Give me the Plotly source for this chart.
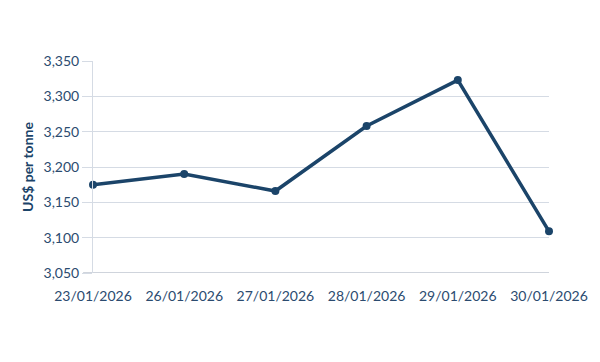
import plotly.graph_objects as go

dates = ["23/01/2026", "26/01/2026", "27/01/2026", "28/01/2026", "29/01/2026", "30/01/2026"]
prices = [3175, 3190, 3166, 3258, 3323, 3109]
y_ticks = [3050, 3100, 3150, 3200, 3250, 3300, 3350]
y_tick_labels = ["3,050", "3,100", "3,150", "3,200", "3,250", "3,300", "3,350"]

line_color = "#1b4469"
text_color = "#2b4b6f"
grid_color = "#d5dbe4"

fig = go.Figure(go.Scatter(
    x=list(range(len(dates))), y=prices, mode="lines+markers",
    line=dict(color=line_color, width=3.5),
    marker=dict(color=line_color, size=8),
    cliponaxis=False,
    hoverinfo="skip",
))

fig.update_layout(
    width=600, height=362,
    margin=dict(l=93, r=47, t=61, b=89),
    paper_bgcolor="white", plot_bgcolor="white",
    font=dict(family="Lato", size=14, color=text_color),
    showlegend=False,
    xaxis=dict(
        range=[0, 5], tickmode="array", tickvals=list(range(len(dates))), ticktext=dates,
        showgrid=False, zeroline=False, showline=False,
        ticks="outside", ticklen=10, tickcolor="rgba(0,0,0,0)",
        tickfont=dict(size=14, color=text_color),
    ),
    yaxis=dict(
        range=[3050, 3350], tickmode="array", tickvals=y_ticks, ticktext=y_tick_labels,
        showgrid=True, gridcolor=grid_color, gridwidth=1,
        zeroline=False, showline=True, linecolor=grid_color, linewidth=1,
        ticks="outside", ticklen=10, tickcolor=grid_color,
        tickfont=dict(size=14, color=text_color),
        title=dict(text="<b>US$ per tonne</b>", font=dict(size=14, color=line_color), standoff=6),
    ),
)
fig.add_shape(type="line", xref="paper", yref="y", x0=-10/460, x1=1, y0=3050, y1=3050,
              line=dict(color="#bfc6d1", width=1.5), layer="below")

fig.write_html("out.html", config={"displayModeBar": False},
               post_script="document.body.style.margin='0';")
